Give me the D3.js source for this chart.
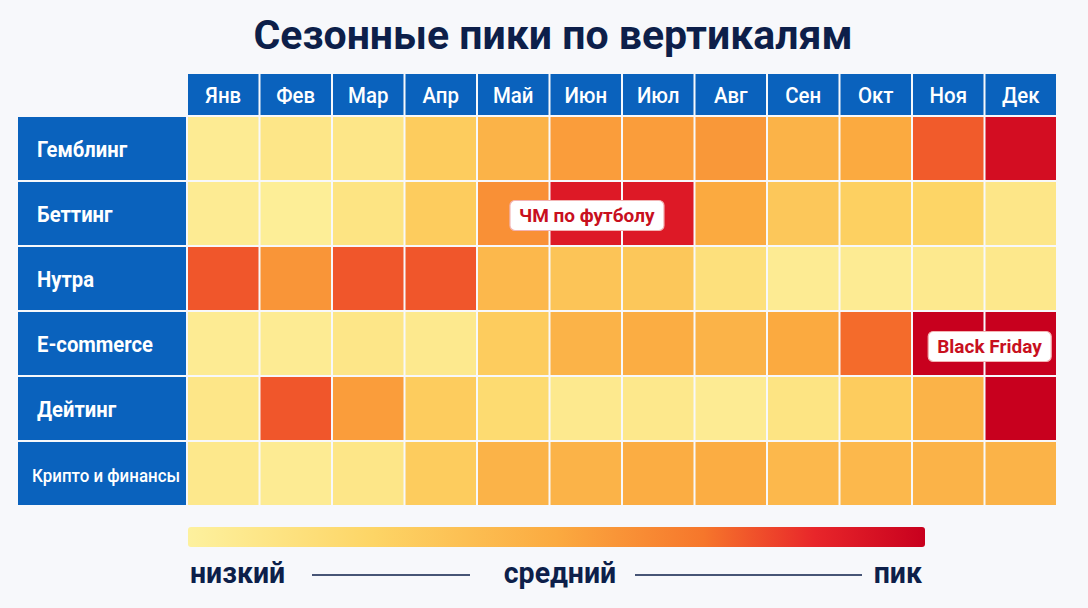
<!DOCTYPE html>
<html>
<head>
<meta charset="utf-8">
<script src="https://cdn.jsdelivr.net/npm/d3@7"></script>
<style>
  body { margin: 0; background: #f7f8fb; }
  svg { display: block; font-family: Roboto, "Noto Sans", sans-serif; }
</style>
</head>
<body>
<script>
// data
var months = ["Янв", "Фев", "Мар", "Апр", "Май", "Июн", "Июл", "Авг", "Сен", "Окт", "Ноя", "Дек"];
var verticals = ["Гемблинг", "Беттинг", "Нутра", "E-commerce", "Дейтинг", "Крипто и финансы"];

// intensity 0 (низкий) .. 1 (пик), one row per vertical
var gamblingVals  = [0.05, 0.10, 0.10, 0.30, 0.45, 0.55, 0.55, 0.57, 0.45, 0.50, 0.75, 0.95];
var bettingVals   = [0.05, 0.03, 0.12, 0.30, 0.60, 0.90, 0.90, 0.50, 0.33, 0.28, 0.25, 0.10];
var nutraVals     = [0.76, 0.58, 0.76, 0.76, 0.42, 0.35, 0.33, 0.15, 0.05, 0.05, 0.07, 0.08];
var ecomVals      = [0.05, 0.05, 0.10, 0.07, 0.30, 0.45, 0.48, 0.45, 0.50, 0.72, 1.00, 1.00];
var datingVals    = [0.10, 0.76, 0.55, 0.30, 0.20, 0.07, 0.08, 0.05, 0.12, 0.30, 0.45, 1.00];
var cryptoVals    = [0.08, 0.05, 0.10, 0.30, 0.45, 0.45, 0.48, 0.48, 0.42, 0.42, 0.45, 0.45];
var series = [gamblingVals, bettingVals, nutraVals, ecomVals, datingVals, cryptoVals];

var annotations = [
    { row: "Беттинг", month: "Июн", text: "ЧМ по футболу" },
    { row: "E-commerce", month: "Дек", text: "Black Friday" }
];
var legendLabels = ["низкий", "средний", "пик"];

var width = 1088, height = 608;
var blue = "#0a62bd", navy = "#0d1f4a", red = "#c8101e";

var svg = d3.select("body").append("svg")
    .attr("width", width)
    .attr("height", height);

var color = d3.scaleLinear()
    .domain([0, 0.25, 0.5, 0.7, 0.85, 1])
    .range(["#fdf19e", "#fdd566", "#fbaa40", "#f6762b", "#e8262a", "#c8001e"]);

var x = d3.scaleBand().domain(months).range([187, 1057]);
var y = d3.scaleBand().domain(verticals).range([116, 506]);

// title
svg.append("text")
    .attr("x", 553).attr("y", 49)
    .attr("text-anchor", "middle")
    .attr("font-size", 41).attr("font-weight", 700)
    .attr("fill", navy)
    .text("Сезонные пики по вертикалям");

// month header
var head = svg.append("g");
head.selectAll("rect")
    .data(months).enter().append("rect")
    .attr("x", function(d) { return x(d) + 1; })
    .attr("y", 74)
    .attr("width", x.bandwidth() - 2)
    .attr("height", 41)
    .attr("fill", blue);
head.selectAll("text")
    .data(months).enter().append("text")
    .attr("transform", function(d) {
        return "translate(" + (x(d) + x.bandwidth() / 2) + ",103) scale(0.93,1)";
    })
    .attr("text-anchor", "middle")
    .attr("font-size", 22).attr("font-weight", 500)
    .attr("fill", "#fff")
    .text(function(d) { return d; });

// row labels
var rows = svg.append("g");
rows.selectAll("rect")
    .data(verticals).enter().append("rect")
    .attr("x", 18)
    .attr("y", function(d) { return y(d) + 1; })
    .attr("width", 168)
    .attr("height", y.bandwidth() - 2)
    .attr("fill", blue);
rows.selectAll("text")
    .data(verticals).enter().append("text")
    .attr("transform", function(d, i) {
        return "translate(" + (i == 5 ? 32 : 37) + "," + (y(d) + y.bandwidth() / 2 + 8) + ") scale(" + (i == 5 ? 0.89 : 0.92) + ",1)";
    })
    .attr("font-size", function(d, i) { return i == 5 ? 19 : 22; })
    .attr("font-weight", function(d, i) { return i == 5 ? 500 : 700; })
    .attr("fill", "#fff")
    .text(function(d) { return d; });

// cells
var cells = [];
series.forEach(function(vals, r) {
    vals.forEach(function(v, c) {
        cells.push({ row: verticals[r], month: months[c], value: v });
    });
});
svg.append("g").selectAll("rect")
    .data(cells).enter().append("rect")
    .attr("x", function(d) { return x(d.month) + 1; })
    .attr("y", function(d) { return y(d.row) + 1; })
    .attr("width", x.bandwidth() - 2)
    .attr("height", y.bandwidth() - 2)
    .attr("fill", function(d) { return color(d.value); });

// annotations
var ann = svg.append("g").selectAll("g")
    .data(annotations).enter().append("g")
    .attr("transform", function(d, i) {
        var cx = x(d.month) + (i == 0 ? x.bandwidth() / 2 + 1 : 5);
        var cy = y(d.row) + y.bandwidth() / 2 + (i == 0 ? 2 : 3);
        return "translate(" + cx + "," + cy + ")";
    });
ann.append("text")
    .attr("text-anchor", "middle")
    .attr("y", 6.5)
    .attr("font-size", 19).attr("font-weight", 700)
    .attr("fill", red)
    .text(function(d) { return d.text; });
ann.each(function() {
    var g = d3.select(this);
    var bb = g.select("text").node().getBBox();
    g.insert("rect", "text")
        .attr("x", bb.x - 9).attr("y", -15)
        .attr("width", bb.width + 18).attr("height", 30)
        .attr("rx", 5)
        .attr("fill", "#fff")
        .attr("stroke", "#f3b3b3").attr("stroke-width", 1.2);
});

// legend
var grad = svg.append("defs").append("linearGradient").attr("id", "lg");
grad.selectAll("stop")
    .data(color.domain()).enter().append("stop")
    .attr("offset", function(d) { return d * 100 + "%"; })
    .attr("stop-color", function(d) { return color(d); });
svg.append("rect")
    .attr("x", 188).attr("y", 527)
    .attr("width", 737).attr("height", 20)
    .attr("rx", 3)
    .attr("fill", "url(#lg)");

var lx = [190, 560, 922], anchors = ["start", "middle", "end"];
svg.append("g").selectAll("text")
    .data(legendLabels).enter().append("text")
    .attr("transform", function(d, i) { return "translate(" + lx[i] + ",583) scale(0.95,1)"; })
    .attr("text-anchor", function(d, i) { return anchors[i]; })
    .attr("font-size", 30).attr("font-weight", 700)
    .attr("fill", navy)
    .text(function(d) { return d; });
[[312, 470], [635, 862]].forEach(function(s) {
    svg.append("line")
        .attr("x1", s[0]).attr("x2", s[1])
        .attr("y1", 575).attr("y2", 575)
        .attr("stroke", navy).attr("stroke-width", 1.5);
});
</script>
</body>
</html>
